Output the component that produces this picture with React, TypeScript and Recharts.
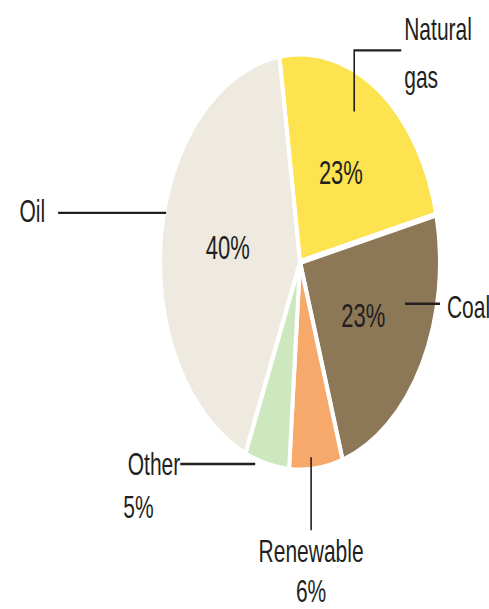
import { PieChart, Pie, Cell } from 'recharts';

const sources = ['Natural gas', 'Coal', 'Renewable', 'Other', 'Oil'];
const shares = [23, 23, 6, 5, 40];
const COLORS = ['#fce34f', '#8c7757', '#f6a96b', '#cde8be', '#eeeae0'];

const data = sources.map((name, i) => ({ name, value: shares[i] }));

// squashed drawing, stretched back vertically by the wrapper
const W = 489;
const H = 409;
const STRETCH = 609 / 409;
const FONT = '"Liberation Sans", Arial, sans-serif';
const INK = '#231f20';
const RAD = Math.PI / 180;

// outside labels: where the leader starts (angle tweak + radius share), its path, and the text
const callouts: Record<string, any> = {
  'Natural gas': {
    delta: -6, r: 0.82, path: [[0, -41], [47, 0]],
    lines: [{ t: 'Natural', dx: 3, dy: -7, anchor: 'start' }, { t: 'gas', dx: 3, dy: 25.5, anchor: 'start' }],
  },
  Oil: {
    delta: 6.6, r: 0.985, path: [[-108, 0]],
    lines: [{ t: 'Oil', dx: -13, dy: 6.5, anchor: 'end' }],
  },
  Coal: {
    delta: -14.6, r: 0.776, path: [[35, 0]],
    lines: [{ t: 'Coal', dx: 7, dy: 9.5, anchor: 'start' }],
  },
  Other: {
    delta: 4.5, r: 1.02, path: [[-75, 0]],
    lines: [{ t: 'Other', dx: 0, dy: 7.5, anchor: 'end' }, { t: '5%', dx: -57, dy: 36.5, anchor: 'start' }],
  },
  Renewable: {
    delta: 1.8, r: 0.94, path: [[0, 49]],
    lines: [{ t: 'Renewable', dx: 0, dy: 21.5, anchor: 'middle' }, { t: '6%', dx: 0, dy: 48.5, anchor: 'middle' }],
  },
};

const inside = ['Natural gas', 'Coal', 'Oil'];

function renderLabel(props: any) {
  const { cx, cy, midAngle, outerRadius, name, value } = props;
  const out = [];
  if (inside.includes(name)) {
    const r = outerRadius * 0.52;
    out.push(
      <text
        key="in"
        x={cx + r * Math.cos(-midAngle * RAD)}
        y={cy + r * Math.sin(-midAngle * RAD)}
        textAnchor="middle"
        dominantBaseline="central"
        fontFamily={FONT}
        fontSize={22}
        fill={INK}
      >
        {`${value}%`}
      </text>
    );
  }
  const c = callouts[name];
  if (c) {
    const a = midAngle - c.delta;
    let x = cx + outerRadius * c.r * Math.cos(-a * RAD);
    let y = cy + outerRadius * c.r * Math.sin(-a * RAD);
    let d = `M${x},${y}`;
    c.path.forEach(([dx, dy]: number[]) => {
      x += dx;
      y += dy;
      d += ` L${x},${y}`;
    });
    out.push(<path key="line" d={d} stroke={INK} strokeWidth={1.6} fill="none" />);
    c.lines.forEach((l: any, i: number) => {
      out.push(
        <text key={`t${i}`} x={x + l.dx} y={y + l.dy} textAnchor={l.anchor} fontFamily={FONT} fontSize={21} fill={INK}>
          {l.t}
        </text>
      );
    });
  }
  return <g>{out}</g>;
}

export default function App() {
  return (
    <div
      style={{
        position: 'absolute',
        left: 0,
        top: 0,
        width: W,
        height: H,
        background: '#fff',
        transform: `scaleY(${STRETCH})`,
        transformOrigin: '0 0',
      }}
    >
      <PieChart width={W} height={H} margin={{ top: 0, right: 0, bottom: 0, left: 0 }}>
        <Pie
          data={data}
          dataKey="value"
          nameKey="name"
          cx={300}
          cy={176}
          outerRadius={140}
          startAngle={98.5}
          endAngle={-261.5}
          stroke="#fff"
          strokeWidth={4}
          label={renderLabel}
          labelLine={false}
          isAnimationActive={false}
        >
          {data.map((entry, index) => (
            <Cell key={`cell-${index}`} fill={COLORS[index % COLORS.length]} />
          ))}
        </Pie>
      </PieChart>
    </div>
  );
}
